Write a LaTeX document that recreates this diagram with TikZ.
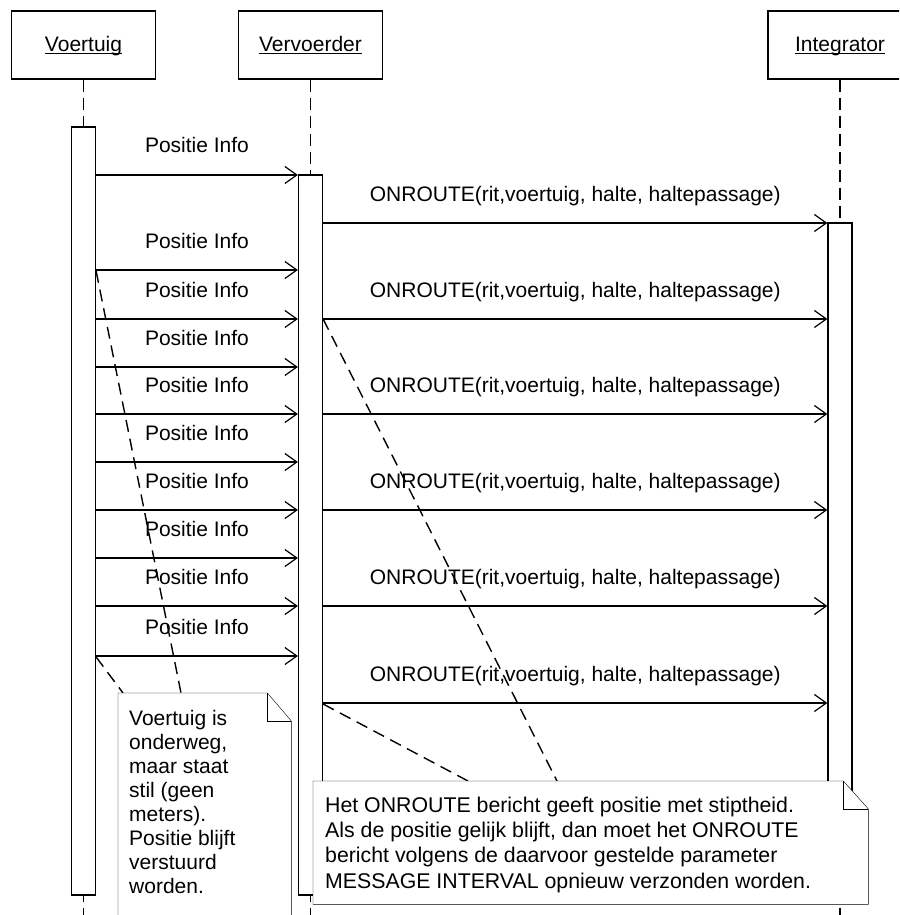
\documentclass[tikz,border=0pt]{standalone}
\usepackage{fontspec}
\setmainfont{Liberation Sans}
\usetikzlibrary{arrows.meta,calc}
\pgfdeclarelayer{notebg}
\pgfdeclarelayer{notefg}
\pgfsetlayers{main,notebg,notefg}
\newcommand\myul[1]{\setbox0\hbox{#1}\rlap{\rule[-2.5pt]{\wd0}{1.1pt}}\box0}
\begin{document}
\begin{tikzpicture}[x=1pt,y=-1pt,line width=1.2pt,
  objbox/.style={draw,fill=white,minimum width=144,minimum height=68,inner sep=0,
    text height=16pt,text depth=2pt,font=\fontsize{21}{24}\selectfont},
  act/.style={draw,fill=white,minimum width=24,inner sep=0},
  lifeline/.style={dash pattern=on 12pt off 6pt},
  msg/.style={-{Straight Barb[length=12pt,width=17pt]}},
  noteanchor/.style={dash pattern=on 12pt off 7pt,line width=1.4pt},
  lbl/.style={anchor=base,inner sep=0,font=\fontsize{21}{24}\selectfont},
  notearea/.style={inner sep=0,anchor=north west},
  notetext/.style={anchor=base west,inner sep=0}]
\clip (0,0) rectangle (899,915);
% objects
\node[objbox] (voertuig) at (83.5,45) {\myul{Voertuig}};
\node[objbox] (vervoerder) at (310.5,45) {\myul{Vervoerder}};
\node[objbox] (integrator) at (840,45) {\myul{Integrator}};
% lifelines
\draw[lifeline] (voertuig.south) -- (voertuig.south |- 0,915);
\draw[lifeline] (vervoerder.south) -- (vervoerder.south |- 0,915);
\draw[lifeline] (integrator.south) -- (integrator.south |- 0,915);
% activations
\node[act,minimum height=768] (actV) at (83.5,511) {};
\node[act,minimum height=720] (actC) at (310.5,535) {};
\node[act,minimum height=672] (actI) at (840,559) {};
% messages Positie Info
\foreach \yy in {175,270,319,367,414,462,510,558,606,656}{
  \draw[msg] (actV.east |- 0,\yy) -- (actC.west |- 0,\yy);
  \path ($(actV.east |- 0,\yy)!0.5!(actC.west |- 0,\yy)$) ++(0,-22) node[lbl] {Positie Info};
}
% messages ONROUTE
\foreach \yy in {223,319,414,510,606,703}{
  \draw[msg] (actC.east |- 0,\yy) -- (actI.west |- 0,\yy);
  \path ($(actC.east |- 0,\yy)!0.5!(actI.west |- 0,\yy)$) ++(0,-21.5) node[lbl] {ONROUTE(rit,voertuig, halte, haltepassage)};
}
% notes
\begin{pgfonlayer}{notebg}
\node[notearea,minimum width=173,minimum height=240] (note1) at (118,693) {};
\draw[fill=white] (note1.south west) -- (note1.north west) -- ([xshift=-24pt]note1.north east)
  -- ([yshift=-28pt]note1.north east) -- (note1.south east) -- cycle;
\draw ([xshift=-24pt]note1.north east) |- ([yshift=-28pt]note1.north east);
\node[notearea,minimum width=555,minimum height=123] (note2) at (313,781) {};
\draw[fill=white] (note2.south west) -- (note2.north west) -- ([xshift=-25pt]note2.north east)
  -- ([yshift=-28pt]note2.north east) -- (note2.south east) -- cycle;
\draw ([xshift=-25pt]note2.north east) |- ([yshift=-28pt]note2.north east);
\end{pgfonlayer}
\begin{pgfonlayer}{notefg}
\node[notetext] (note1text) at (129,725) {\parbox[t]{155pt}{\fontsize{21}{24}\selectfont
Voertuig is\\onderweg,\\maar staat\\stil (geen\\meters).\\Positie blijft\\verstuurd\\worden.}};
\node[notetext] (note2text) at (325,812) {\parbox[t]{540pt}{\fontsize{21.3}{25.4}\selectfont
Het ONROUTE bericht geeft positie met stiptheid.\\
Als de positie gelijk blijft, dan moet het ONROUTE\\
bericht volgens de daarvoor gestelde parameter\\
MESSAGE INTERVAL opnieuw verzonden worden.}};
\end{pgfonlayer}
% note anchors
\draw[noteanchor] (actV.east |- 0,271) -- ([xshift=63pt]note1.north west);
\draw[noteanchor] (actV.east |- 0,657) -- ([xshift=5pt]note1.north west);
\draw[noteanchor] (actC.east |- 0,319) -- ([xshift=244pt]note2.north west);
\draw[noteanchor] (actC.east |- 0,704) -- ([xshift=155pt]note2.north west);
\end{tikzpicture}
\end{document}
